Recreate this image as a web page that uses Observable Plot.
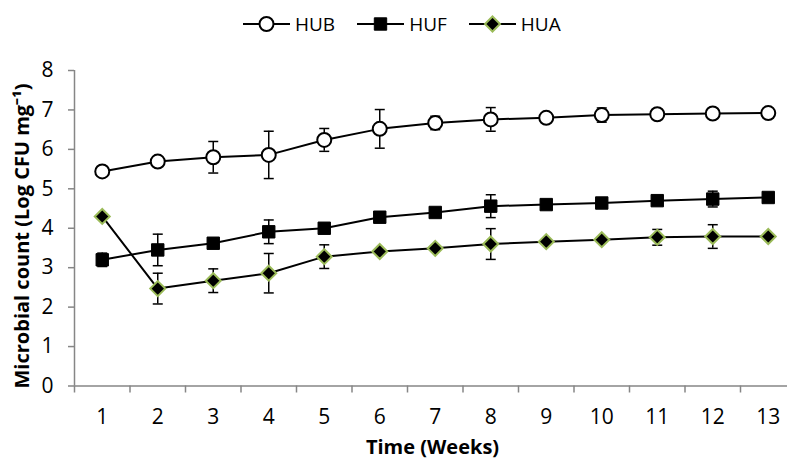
<!DOCTYPE html>
<html>
<head>
<meta charset="utf-8">
<script src="https://cdn.jsdelivr.net/npm/d3@7"></script>
<script src="https://cdn.jsdelivr.net/npm/@observablehq/plot@0.6"></script>
<style>
  html, body { margin: 0; padding: 0; background: #fff; }
  #wrap { width: 787px; height: 462px; overflow: hidden; font-family: "Open Sans", sans-serif; }
  #legend { height: 48px; display: flex; align-items: center; padding-left: 243px; box-sizing: border-box; }
  .item { display: flex; align-items: center; margin-right: 22px; font-size: 19px; color: #000; }
  .item svg { display: block; margin-right: 5px; }
</style>
</head>
<body>
<div id="wrap">
  <div id="legend"></div>
  <div id="chart"></div>
</div>
<script>
// Sampling weeks
const weeks = [1, 2, 3, 4, 5, 6, 7, 8, 9, 10, 11, 12, 13];

// Mean microbial counts (Log CFU mg^-1) and their standard deviations
const hub    = [5.44, 5.69, 5.80, 5.86, 6.24, 6.52, 6.67, 6.76, 6.80, 6.87, 6.89, 6.91, 6.92];
const hubErr = [0, 0, 0.40, 0.60, 0.29, 0.49, 0.17, 0.30, 0, 0.18, 0, 0, 0];
const huf    = [3.20, 3.45, 3.62, 3.91, 4.00, 4.28, 4.40, 4.56, 4.60, 4.64, 4.70, 4.74, 4.78];
const hufErr = [0.17, 0.40, 0, 0.30, 0, 0, 0, 0.29, 0, 0, 0, 0.20, 0];
const hua    = [4.30, 2.47, 2.67, 2.86, 3.28, 3.41, 3.49, 3.60, 3.66, 3.71, 3.77, 3.79, 3.79];
const huaErr = [0, 0.39, 0.30, 0.50, 0.30, 0, 0, 0.39, 0, 0, 0.20, 0.30, 0];

const seriesNames = ["HUB", "HUF", "HUA"];
const yTicks = [0, 1, 2, 3, 4, 5, 6, 7, 8];
const xLabel = "Time (Weeks)";
const yLabel = "Microbial count (Log CFU mg\u207B\u00B9)";

const axisGray = "#868686";
const green = "#9BBB59";

// Marker shapes (size = PI * r^2 as passed by Plot)
const squareSym = {draw(ctx, size) { const r = Math.sqrt(size / Math.PI); ctx.rect(-r, -r, 2 * r, 2 * r); }};
const diamondSym = {draw(ctx, size) {
  const r = Math.sqrt(size / Math.PI);
  ctx.moveTo(0, -r); ctx.lineTo(r, 0); ctx.lineTo(0, r); ctx.lineTo(-r, 0); ctx.closePath();
}};
const capSym = {draw(ctx, size) { const r = Math.sqrt(size / Math.PI); ctx.moveTo(-r, 0); ctx.lineTo(r, 0); }};

const styles = {
  HUB: {symbol: "circle", r: 7, fill: "white", stroke: "black", strokeWidth: 2},
  HUF: {symbol: squareSym, r: 6.2, fill: "black", stroke: "black", strokeWidth: 1},
  HUA: {symbol: diamondSym, r: 7.5, fill: "black", stroke: green, strokeWidth: 2}
};

const rows = [];
[[hub, hubErr], [huf, hufErr], [hua, huaErr]].forEach(([vals, errs], s) => {
  weeks.forEach((w, i) => rows.push({series: seriesNames[s], week: w, value: vals[i], err: errs[i]}));
});
const errRows = rows.filter(d => d.err > 0);

// Legend
const legend = d3.select("#legend");
seriesNames.forEach(name => {
  const st = styles[name];
  const item = legend.append("div").attr("class", "item");
  const svg = item.append("svg").attr("width", 47).attr("height", 20);
  svg.append("line").attr("x1", 0).attr("x2", 47).attr("y1", 10).attr("y2", 10)
    .attr("stroke", "black").attr("stroke-width", 2);
  const g = svg.append("g").attr("transform", "translate(23.5,10)");
  if (st.symbol === "circle") {
    g.append("circle").attr("r", st.r).attr("fill", st.fill).attr("stroke", st.stroke).attr("stroke-width", st.strokeWidth);
  } else {
    g.append("path").attr("d", d3.symbol(st.symbol, Math.PI * st.r * st.r)())
      .attr("fill", st.fill).attr("stroke", st.stroke).attr("stroke-width", st.strokeWidth);
  }
  item.append("span").text(name);
});

const chart = Plot.plot({
  width: 787,
  height: 414,
  marginLeft: 74,
  marginRight: 0,
  marginTop: 22,
  marginBottom: 76.5,
  style: {fontFamily: "Open Sans, sans-serif", fontSize: "21px", color: "black", background: "white"},
  x: {domain: [0.5, 13.5], range: [74, 795.5]},
  y: {domain: [0, 8]},
  marks: [
    // axes
    Plot.axisY(yTicks, {tickSize: 6, tickPadding: 15, stroke: axisGray, strokeWidth: 1.5, fill: "black", label: null}),
    Plot.axisX(weeks.map(w => w - 0.5).concat([13.5]), {tickSize: 7, tickFormat: () => "", stroke: axisGray, strokeWidth: 1.5, label: null}),
    Plot.axisX(weeks, {tickSize: 0, tickPadding: 23, fill: "black", label: null}),
    Plot.ruleY([0], {stroke: axisGray, strokeWidth: 1.5}),
    Plot.ruleX([0.5], {stroke: axisGray, strokeWidth: 1.5}),
    // error bars
    Plot.ruleX(errRows, {x: "week", y1: d => d.value - d.err, y2: d => d.value + d.err, stroke: "black", strokeWidth: 1.5}),
    Plot.dot(errRows, {x: "week", y: d => d.value + d.err, symbol: capSym, r: 5, stroke: "black", strokeWidth: 1.5}),
    Plot.dot(errRows, {x: "week", y: d => d.value - d.err, symbol: capSym, r: 5, stroke: "black", strokeWidth: 1.5}),
    // series lines
    Plot.line(rows, {x: "week", y: "value", z: "series", stroke: "black", strokeWidth: 2}),
    // markers
    ...seriesNames.map(name => Plot.dot(rows.filter(d => d.series === name), {x: "week", y: "value", ...styles[name]})),
    // axis titles
    Plot.text([yLabel], {frameAnchor: "left", textAnchor: "middle", lineAnchor: "middle", text: d => d, rotate: -90, dx: -52.3, dy: 7.75, fontWeight: "bold", fontSize: 20, fill: "black"}),
    Plot.text([xLabel], {frameAnchor: "bottom", textAnchor: "middle", lineAnchor: "middle", text: d => d, dx: 1.5, dy: 61.5, fontWeight: "bold", fontSize: 20, fill: "black"})
  ]
});
document.getElementById("chart").appendChild(chart);
</script>
</body>
</html>
